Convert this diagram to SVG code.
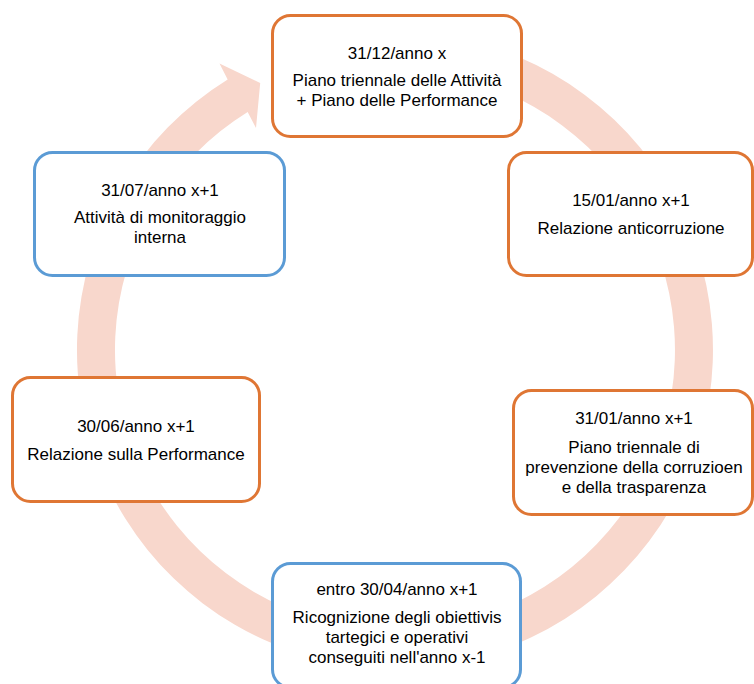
<svg xmlns="http://www.w3.org/2000/svg" width="754" height="684" viewBox="0 0 754 684">
<style>
.box{fill:#ffffff;stroke-width:3}
.o{stroke:#DF7634}
.b{stroke:#5B9BD5}
text{font-family:"Liberation Sans",Arial,sans-serif;font-size:17px;fill:#000;text-anchor:middle}
.ring{fill:#F8D7CC;stroke:none}
</style>
<rect width="754" height="684" fill="#ffffff"/>
<g id="connectors">
<path class="ring" d="M367.28,33.21 A318,318 0 1 1 227.67,79.57 L219.5,63.5 L260.2,83.1 L256,128 L247.66,111.89 A280,280 0 1 0 370.60,71.07 Z"/>
</g>
<g id="n1">
<rect class="box o" x="272.5" y="15.5" width="249" height="121" rx="18"/>
<text x="397" y="59">31/12/anno x</text>
<text x="397" y="86">Piano triennale delle Attività</text>
<text x="397" y="106">+ Piano delle Performance</text>
</g>
<g id="n2">
<rect class="box o" x="508.5" y="152.5" width="244" height="123" rx="18"/>
<text x="631" y="206">15/01/anno x+1</text>
<text x="631" y="234">Relazione anticorruzione</text>
</g>
<g id="n3">
<rect class="box o" x="513.5" y="390.5" width="239" height="124" rx="18"/>
<text x="634" y="424">31/01/anno x+1</text>
<text x="634" y="453">Piano triennale di</text>
<text x="634" y="473">prevenzione della corruzioen</text>
<text x="634" y="493">e della trasparenza</text>
</g>
<g id="n4">
<rect class="box b" x="272.5" y="563.5" width="248" height="124" rx="18"/>
<text x="397" y="595">entro 30/04/anno x+1</text>
<text x="397" y="623">Ricognizione degli obiettivis</text>
<text x="397" y="643">tartegici e operativi</text>
<text x="397" y="663">conseguiti nell'anno x-1</text>
</g>
<g id="n5">
<rect class="box o" x="12.5" y="377.5" width="247" height="124" rx="18"/>
<text x="136" y="432">30/06/anno x+1</text>
<text x="136" y="460">Relazione sulla Performance</text>
</g>
<g id="n6">
<rect class="box b" x="34.5" y="152.5" width="250" height="123" rx="18"/>
<text x="160" y="196">31/07/anno x+1</text>
<text x="160" y="223">Attività di monitoraggio</text>
<text x="160" y="243">interna</text>
</g>
</svg>
